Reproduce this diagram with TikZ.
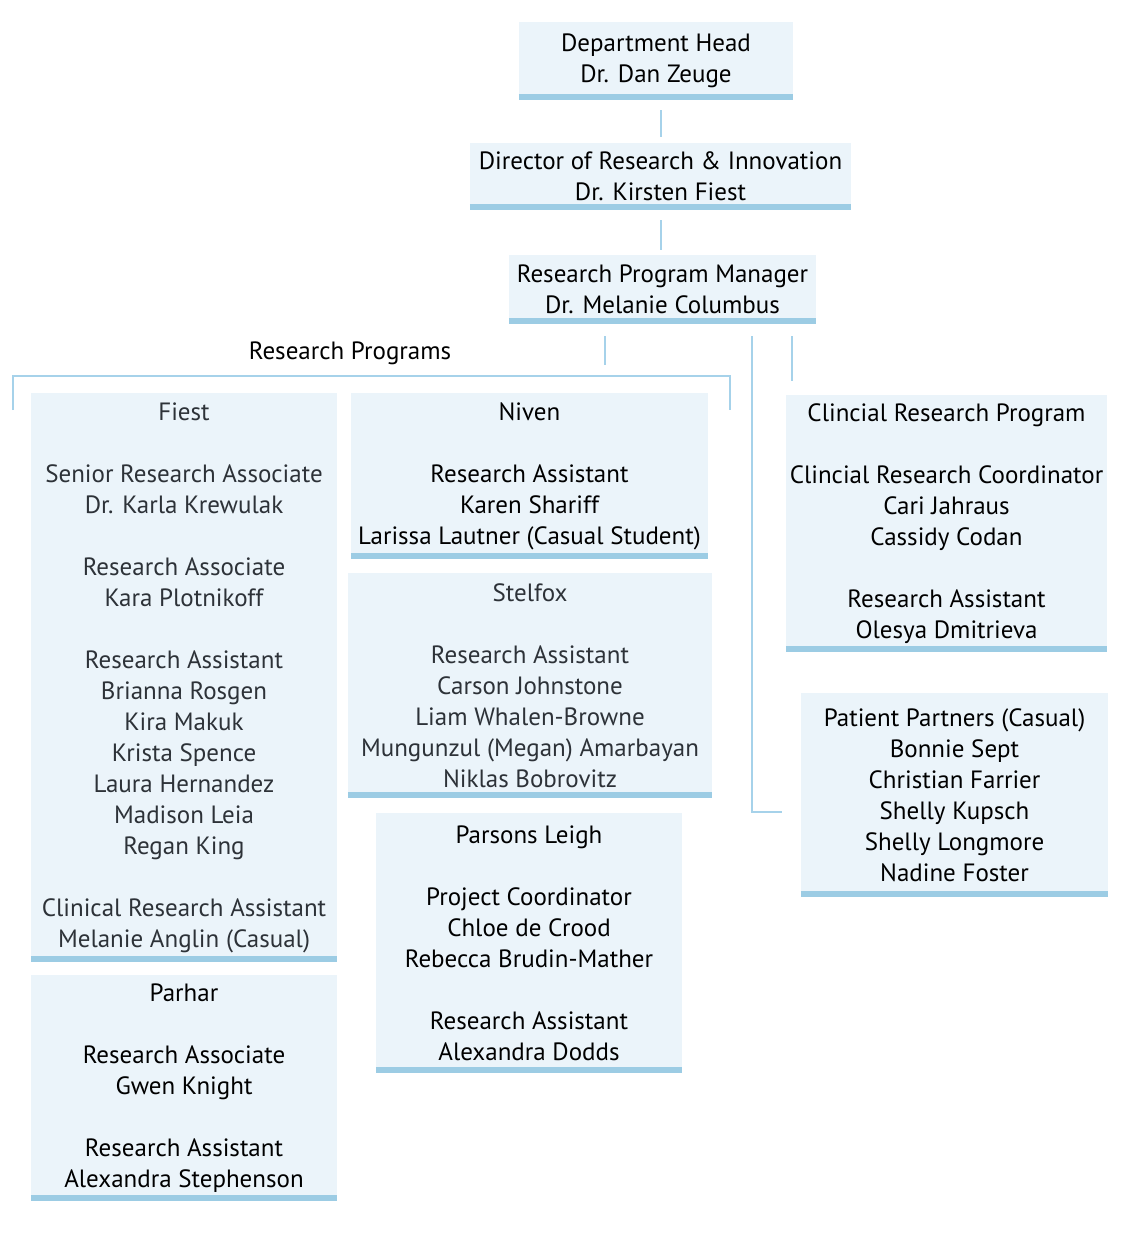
\documentclass[tikz,border=0pt]{standalone}
\usepackage{fontspec}
\setmainfont{PT Sans}
\definecolor{boxfill}{RGB}{235,244,250}
\definecolor{barblue}{RGB}{156,204,228}
\definecolor{linkblue}{RGB}{166,210,234}
\definecolor{greytext}{RGB}{45,50,56}
\tikzset{
  unit/.style={fill=boxfill, align=center, inner sep=0pt, text=black,
    font=\fontsize{25}{31}\selectfont,
    append after command={([yshift=3pt]\tikzlastnode.south west)
      edge[draw=barblue, line width=6pt] ([yshift=3pt]\tikzlastnode.south east)}},
  link/.style={draw=linkblue, line width=2pt},
}
\begin{document}
\begin{tikzpicture}[x=1pt, y=-1pt]
\useasboundingbox (0,0) rectangle (1140,1246);
% top of the chart
\node[unit, minimum width=274pt, minimum height=78pt] (head) at (656,61)
  {Department Head\\Dr. Dan Zeuge};
\node[unit, minimum width=381pt, minimum height=67pt] (director) at (660.5,176.5)
  {Director of Research \& Innovation\\Dr. Kirsten Fiest};
\node[unit, minimum width=307pt, minimum height=69pt] (manager) at (662.5,289.5)
  {Research Program Manager\\Dr. Melanie Columbus};
\draw[link] ([yshift=-10pt]director.north |- head.south) -- ([yshift=6pt]director.north);
\draw[link] ([yshift=-10pt]director.south) -- ([yshift=5pt]director.south |- manager.north);

% research programs
\node[font=\fontsize{25}{31}\selectfont] (progs) at (350,353) {Research Programs};
\coordinate (tap) at (605,336);
\coordinate (bl) at (13,410);
\coordinate (br) at (730,410);
\draw[link] (tap) -- ++(0,29);
\draw[link] (bl) -- ++(0,-34) -| (br);

\node[unit, text=greytext, minimum width=306pt, minimum height=569pt] (fiest) at (184,677.5)
  {Fiest\\[31pt]Senior Research Associate\\Dr. Karla Krewulak\\[31pt]Research Associate\\Kara Plotnikoff\\[31pt]Research Assistant\\Brianna Rosgen\\Kira Makuk\\Krista Spence\\Laura Hernandez\\Madison Leia\\Regan King\\[31pt]Clinical Research Assistant\\Melanie Anglin (Casual)};
\node[unit, minimum width=306pt, minimum height=226pt] (parhar) at (184,1088)
  {Parhar\\[31pt]Research Associate\\Gwen Knight\\[31pt]Research Assistant\\Alexandra Stephenson};
\node[unit, minimum width=357pt, minimum height=166pt] (niven) at (529.5,476)
  {Niven\\[31pt]Research Assistant\\Karen Shariff\\Larissa Lautner (Casual Student)};
\node[unit, text=greytext, minimum width=364pt, minimum height=225pt] (stelfox) at (530,685.5)
  {Stelfox\\[31pt]Research Assistant\\Carson Johnstone\\Liam Whalen-Browne\\Mungunzul (Megan) Amarbayan\\Niklas Bobrovitz};
\node[unit, minimum width=306pt, minimum height=260pt] (parsons) at (529,943)
  {Parsons Leigh\\[31pt]Project Coordinator\\Chloe de Crood\\Rebecca Brudin-Mather\\[31pt]Research Assistant\\Alexandra Dodds};

% clinical side
\node[unit, minimum width=321pt, minimum height=257pt] (clinical) at (946.5,523.5)
  {Clincial Research Program\\[31pt]Clincial Research Coordinator\\Cari Jahraus\\Cassidy Codan\\[31pt]Research Assistant\\Olesya Dmitrieva};
\node[unit, minimum width=307pt, minimum height=204pt] (patient) at (954.5,795)
  {Patient Partners (Casual)\\Bonnie Sept\\Christian Farrier\\Shelly Kupsch\\Shelly Longmore\\Nadine Foster};
\coordinate (side) at (752,336);
\draw[link] (side) |- ([xshift=-19pt,yshift=-17pt]patient.west);
\coordinate (clin) at (792,336);
\draw[link] (clin) -- ([yshift=14pt]clinical.north -| clin);
\end{tikzpicture}
\end{document}
